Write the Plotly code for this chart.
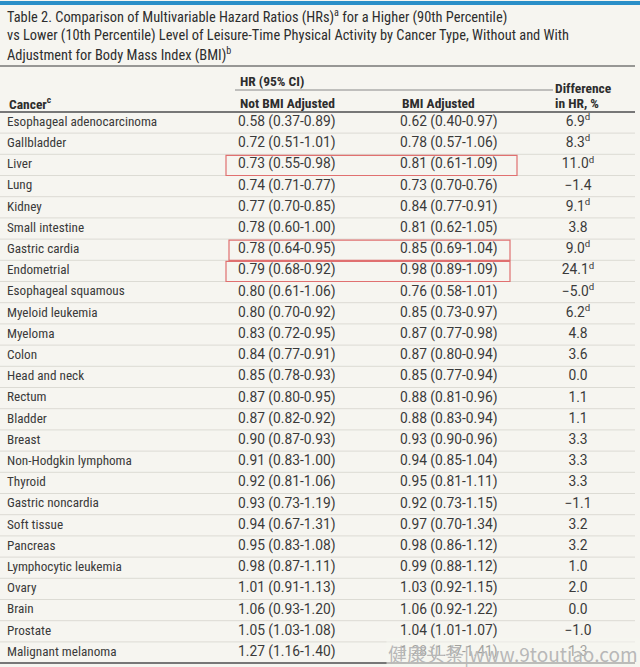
import plotly.graph_objects as go

# table data
cancers = ["Esophageal adenocarcinoma", "Gallbladder", "Liver", "Lung", "Kidney",
           "Small intestine", "Gastric cardia", "Endometrial", "Esophageal squamous",
           "Myeloid leukemia", "Myeloma", "Colon", "Head and neck", "Rectum", "Bladder",
           "Breast", "Non-Hodgkin lymphoma", "Thyroid", "Gastric noncardia", "Soft tissue",
           "Pancreas", "Lymphocytic leukemia", "Ovary", "Brain", "Prostate",
           "Malignant melanoma"]
hr_not_adj = ["0.58 (0.37-0.89)", "0.72 (0.51-1.01)", "0.73 (0.55-0.98)", "0.74 (0.71-0.77)",
              "0.77 (0.70-0.85)", "0.78 (0.60-1.00)", "0.78 (0.64-0.95)", "0.79 (0.68-0.92)",
              "0.80 (0.61-1.06)", "0.80 (0.70-0.92)", "0.83 (0.72-0.95)", "0.84 (0.77-0.91)",
              "0.85 (0.78-0.93)", "0.87 (0.80-0.95)", "0.87 (0.82-0.92)", "0.90 (0.87-0.93)",
              "0.91 (0.83-1.00)", "0.92 (0.81-1.06)", "0.93 (0.73-1.19)", "0.94 (0.67-1.31)",
              "0.95 (0.83-1.08)", "0.98 (0.87-1.11)", "1.01 (0.91-1.13)", "1.06 (0.93-1.20)",
              "1.05 (1.03-1.08)", "1.27 (1.16-1.40)"]
hr_bmi_adj = ["0.62 (0.40-0.97)", "0.78 (0.57-1.06)", "0.81 (0.61-1.09)", "0.73 (0.70-0.76)",
              "0.84 (0.77-0.91)", "0.81 (0.62-1.05)", "0.85 (0.69-1.04)", "0.98 (0.89-1.09)",
              "0.76 (0.58-1.01)", "0.85 (0.73-0.97)", "0.87 (0.77-0.98)", "0.87 (0.80-0.94)",
              "0.85 (0.77-0.94)", "0.88 (0.81-0.96)", "0.88 (0.83-0.94)", "0.93 (0.90-0.96)",
              "0.94 (0.85-1.04)", "0.95 (0.81-1.11)", "0.92 (0.73-1.15)", "0.97 (0.70-1.34)",
              "0.98 (0.86-1.12)", "0.99 (0.88-1.12)", "1.03 (0.92-1.15)", "1.06 (0.92-1.22)",
              "1.04 (1.01-1.07)", "1.28 (1.17-1.41)"]
diff_pct = ["6.9", "8.3", "11.0", "−1.4", "9.1", "3.8", "9.0", "24.1", "−5.0", "6.2",
            "4.8", "3.6", "0.0", "1.1", "1.1", "3.3", "3.3", "3.3", "−1.1", "3.2",
            "3.2", "1.0", "2.0", "0.0", "−1.0", "1.3"]
diff_flag = [1, 1, 1, 0, 1, 0, 1, 1, 1, 1, 0, 0, 0, 0, 0, 0, 0, 0, 0, 0, 0, 0, 0, 0, 0, 0]
boxed = ["Liver", "Gastric cardia", "Endometrial"]

W, H = 640, 667
BG = "#f6f5f0"
TXT = "#3a3a3a"
COND = "Roboto Condensed, DejaVu Sans Condensed, sans-serif"
NUM = "Roboto, sans-serif"

row0, step = 122.5, 21.2
ys = [row0 + i * step for i in range(len(cancers))]
diff_txt = [d + ("<sup>d</sup>" if f else "") for d, f in zip(diff_pct, diff_flag)]

fig = go.Figure()
fig.add_trace(go.Scatter(x=[7] * len(cancers), y=ys, text=cancers, mode="text",
                         textposition="middle right", hoverinfo="skip",
                         textfont=dict(family=COND, size=13.2, color=TXT)))
fig.add_trace(go.Scatter(x=[238] * len(cancers), y=ys, text=hr_not_adj, mode="text",
                         textposition="middle right", hoverinfo="skip",
                         textfont=dict(family=NUM, size=13.8, color=TXT)))
fig.add_trace(go.Scatter(x=[400] * len(cancers), y=ys, text=hr_bmi_adj, mode="text",
                         textposition="middle right", hoverinfo="skip",
                         textfont=dict(family=NUM, size=13.8, color=TXT)))
fig.add_trace(go.Scatter(x=[578] * len(cancers), y=ys, text=diff_txt, mode="text",
                         textposition="middle center", hoverinfo="skip",
                         textfont=dict(family=NUM, size=13.8, color=TXT)))

# row separators
for i in range(len(cancers) - 1):
    y = ys[i] + step / 2
    fig.add_shape(type="line", x0=0, x1=635, y0=y, y1=y,
                  line=dict(color="#dcdbd4", width=1))

# red highlight boxes
box_x = {"Liver": (226, 517), "Gastric cardia": (229, 510), "Endometrial": (226, 510)}
for name in boxed:
    i = cancers.index(name)
    x0, x1 = box_x[name]
    fig.add_shape(type="rect", x0=x0, x1=x1, y0=ys[i] - step / 2 + 1, y1=ys[i] + step / 2,
                  line=dict(color="#e07070", width=1.2))

# rules
fig.add_shape(type="line", x0=0, x1=640, y0=3, y1=3, line=dict(color="#2a8fc8", width=4))
fig.add_shape(type="line", x0=0, x1=635, y0=66, y1=66, line=dict(color="#777", width=1.5))
fig.add_shape(type="line", x0=235, x1=553, y0=90, y1=90, line=dict(color="#888", width=1))
fig.add_shape(type="line", x0=0, x1=635, y0=112, y1=112, line=dict(color="#777", width=2))
fig.add_shape(type="line", x0=0, x1=635, y0=663, y1=663, line=dict(color="#777", width=2))

title_lines = [
    "Table 2. Comparison of Multivariable Hazard Ratios (HRs)<sup>a</sup> for a Higher (90th Percentile)",
    "vs Lower (10th Percentile) Level of Leisure-Time Physical Activity by Cancer Type, Without and With",
    "Adjustment for Body Mass Index (BMI)<sup>b</sup>",
]
for k, t in enumerate(title_lines):
    fig.add_annotation(x=5, y=16 + k * 19, text=t, showarrow=False, xanchor="left",
                       yanchor="middle", font=dict(family=COND, size=14.4, color="#2d2d2d"))

hdr = dict(showarrow=False, yanchor="middle",
           font=dict(family=COND, size=13.5, color="#2d2d2d"))
fig.add_annotation(x=238, y=81, text="<b>HR (95% CI)</b>", xanchor="left", **hdr)
fig.add_annotation(x=7, y=103, text="<b>Cancer<sup>c</sup></b>", xanchor="left", **hdr)
fig.add_annotation(x=238, y=103, text="<b>Not BMI Adjusted</b>", xanchor="left", **hdr)
fig.add_annotation(x=400, y=103, text="<b>BMI Adjusted</b>", xanchor="left", **hdr)
fig.add_annotation(x=553, y=88, text="<b>Difference</b>", xanchor="left", **hdr)
fig.add_annotation(x=553, y=103, text="<b>in HR, %</b>", xanchor="left", **hdr)

# watermark
fig.add_annotation(x=640, y=654, text="健康头条|www.9toutiao.com", showarrow=False,
                   xanchor="right", yanchor="middle", bgcolor="rgba(246,245,240,0.55)",
                   font=dict(family="Noto Sans CJK SC, sans-serif", size=19, color="#b8b8b8"))

fig.update_xaxes(range=[0, W], visible=False, fixedrange=True)
fig.update_yaxes(range=[H, 0], visible=False, fixedrange=True)
fig.update_layout(width=W, height=H, margin=dict(l=0, r=0, t=0, b=0),
                  paper_bgcolor=BG, plot_bgcolor=BG, showlegend=False)

fig.write_html("out.html", config={"displayModeBar": False},
               post_script="document.body.style.margin='0';")
